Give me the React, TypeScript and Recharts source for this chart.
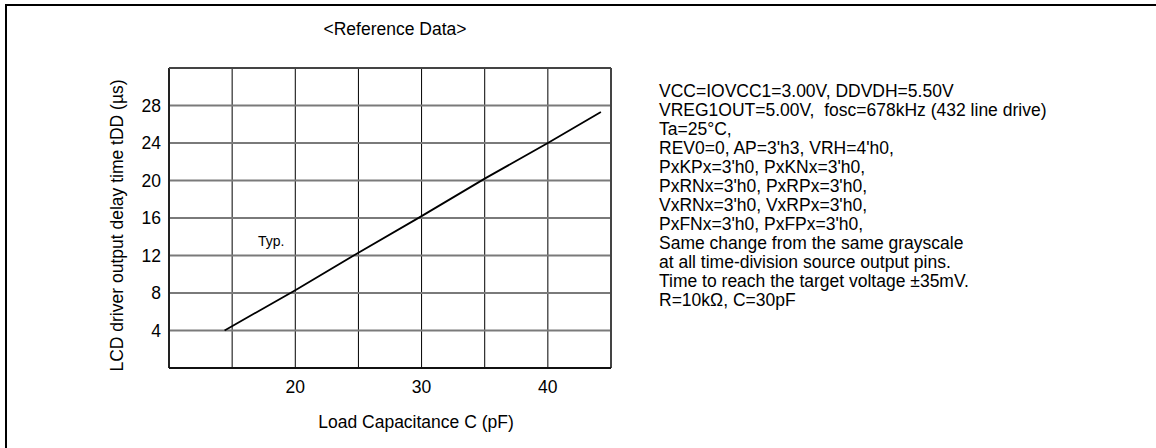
import React from 'react';
import { LineChart, Line, XAxis, YAxis, CartesianGrid, ReferenceLine, ReferenceDot } from 'recharts';

const capacitance = [14.4, 20, 25, 30, 35, 40, 44.2];
const delayTime = [4.0, 8.3, 12.3, 16.2, 20.2, 24.0, 27.3];
const xTicks = [15, 20, 25, 30, 35, 40];
const xLabeledTicks = [20, 30, 40];
const yTicks = [4, 8, 12, 16, 20, 24, 28];
const xDomain: [number, number] = [10, 45];
const yDomain: [number, number] = [0, 32];
const title = '<Reference Data>';
const xAxisTitle = 'Load Capacitance C (pF)';
const yAxisTitle = 'LCD driver output delay time tDD (\u00b5s)';
const typLabel = 'Typ.';
const typX = 18.1;
const typY = 13.5;
const conditions = [
  'VCC=IOVCC1=3.00V, DDVDH=5.50V',
  'VREG1OUT=5.00V,  fosc=678kHz (432 line drive)',
  'Ta=25\u00b0C,',
  "REV0=0, AP=3'h3, VRH=4'h0,",
  "PxKPx=3'h0, PxKNx=3'h0,",
  "PxRNx=3'h0, PxRPx=3'h0,",
  "VxRNx=3'h0, VxRPx=3'h0,",
  "PxFNx=3'h0, PxFPx=3'h0,",
  'Same change from the same grayscale',
  'at all time-division source output pins.',
  'Time to reach the target voltage \u00b135mV.',
  'R=10k\u03a9, C=30pF',
];

const data = capacitance.map((x, i) => ({ x, y: delayTime[i] }));

const FONT = '"Liberation Sans", Arial, sans-serif';
const FS = 17.5;

export default function App() {
  return (
    <div
      style={{
        position: 'absolute',
        left: 0,
        top: 0,
        width: 1156,
        height: 448,
        background: '#fff',
        fontFamily: FONT,
        color: '#000',
        overflow: 'hidden',
      }}
    >
      <div
        style={{
          position: 'absolute',
          left: 5,
          top: 4,
          width: 1156,
          height: 448,
          borderTop: '2px solid #000',
          borderLeft: '2px solid #000',
        }}
      />
      <div style={{ position: 'absolute', left: 0, top: 0 }}>
        <LineChart width={1156} height={448} data={data} margin={{ top: 68, right: 545, bottom: 0, left: 0 }}>
          <CartesianGrid horizontal={false} stroke="#000" strokeWidth={1} />
          <CartesianGrid vertical={false} stroke="#7a7a7a" strokeWidth={2} />
          <XAxis
            dataKey="x"
            type="number"
            domain={xDomain}
            ticks={xTicks}
            tickFormatter={(v: number) => (xLabeledTicks.includes(v) ? String(v) : '')}
            axisLine={false}
            tickLine={false}
            tickSize={0}
            tickMargin={13}
            height={80}
            tick={{ fontSize: FS, fill: '#000', fontFamily: FONT }}
            interval={0}
          />
          <YAxis
            type="number"
            domain={yDomain}
            ticks={yTicks}
            axisLine={false}
            tickLine={false}
            tickSize={0}
            tickMargin={8}
            width={169}
            tick={{ fontSize: FS, fill: '#000', fontFamily: FONT }}
            interval={0}
          />
          <ReferenceLine x={xDomain[0]} stroke="#222" strokeWidth={2} />
          <ReferenceLine x={xDomain[1]} stroke="#444" strokeWidth={2} />
          <ReferenceLine y={yDomain[0]} stroke="#111" strokeWidth={2} />
          <ReferenceLine y={yDomain[1]} stroke="#444" strokeWidth={2} />
          <Line
            dataKey="y"
            type="linear"
            stroke="#000"
            strokeWidth={1.8}
            dot={false}
            activeDot={false}
            isAnimationActive={false}
          />
          <ReferenceDot
            x={typX}
            y={typY}
            r={0}
            fill="none"
            stroke="none"
            label={{ value: typLabel, position: 'center', fontSize: 14, fill: '#000', fontFamily: FONT }}
          />
        </LineChart>
      </div>
      <div
        style={{
          position: 'absolute',
          left: 195,
          width: 400,
          top: 19.7,
          textAlign: 'center',
          fontSize: FS,
          lineHeight: '19px',
          whiteSpace: 'pre',
        }}
      >
        {title}
      </div>
      <div
        style={{
          position: 'absolute',
          left: 216,
          width: 400,
          top: 413,
          textAlign: 'center',
          fontSize: FS,
          lineHeight: '19px',
          whiteSpace: 'pre',
        }}
      >
        {xAxisTitle}
      </div>
      <div
        style={{
          position: 'absolute',
          left: 117 - 200,
          width: 400,
          top: 225 - 9.5,
          textAlign: 'center',
          fontSize: FS,
          lineHeight: '19px',
          whiteSpace: 'pre',
          transform: 'rotate(-90deg)',
          transformOrigin: '50% 50%',
        }}
      >
        {yAxisTitle}
      </div>
      <div
        style={{
          position: 'absolute',
          left: 659,
          top: 81.7,
          fontSize: FS,
          lineHeight: '19px',
          whiteSpace: 'pre',
        }}
      >
        {conditions.map((line, i) => (
          <div key={i}>{line}</div>
        ))}
      </div>
    </div>
  );
}
